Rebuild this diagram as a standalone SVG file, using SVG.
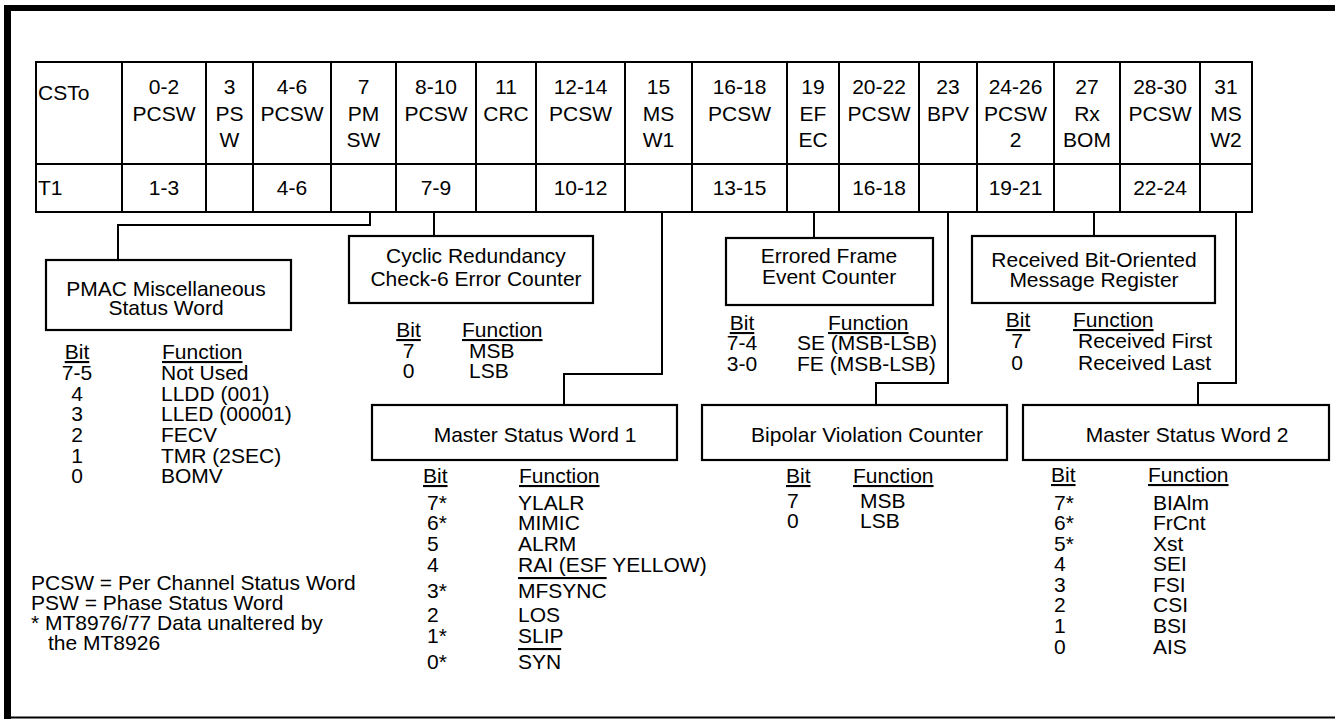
<svg xmlns="http://www.w3.org/2000/svg" width="1335" height="719" viewBox="0 0 1335 719">
<style>
text{font-family:"Liberation Sans",Arial,Helvetica,sans-serif;font-size:21px;fill:#000}
.c{text-anchor:middle}
.u{text-decoration:underline}
.o{text-decoration:overline}
.ln{stroke:#000;stroke-width:2;fill:none}
.box{stroke:#000;stroke-width:2.2;fill:#fff}
</style>
<rect width="1335" height="719" fill="#fff"/>
<g id="frame">
<rect x="4" y="5" width="1331" height="6" fill="#000"/>
<rect x="4" y="5" width="7" height="714" fill="#000"/>
<rect x="4" y="716.5" width="1331" height="2" fill="#000"/>
</g>
<g id="table">
<rect x="36" y="62" width="1216" height="150" class="ln"/>
<path class="ln" d="M36,164H1252 M122,62V212 M206,62V212 M253,62V212 M331,62V212 M396,62V212 M476,62V212 M536,62V212 M625,62V212 M692,62V212 M787,62V212 M839,62V212 M919,62V212 M977,62V212 M1054,62V212 M1120,62V212 M1200,62V212"/>
<text x="38" y="100">CSTo</text>
<text class="c"><tspan x="164" y="94">0-2</tspan><tspan x="164" y="121">PCSW</tspan></text>
<text class="c"><tspan x="229.5" y="94">3</tspan><tspan x="229.5" y="121">PS</tspan><tspan x="229.5" y="147">W</tspan></text>
<text class="c"><tspan x="292" y="94">4-6</tspan><tspan x="292" y="121">PCSW</tspan></text>
<text class="c"><tspan x="363.5" y="94">7</tspan><tspan x="363.5" y="121">PM</tspan><tspan x="363.5" y="147">SW</tspan></text>
<text class="c"><tspan x="436" y="94">8-10</tspan><tspan x="436" y="121">PCSW</tspan></text>
<text class="c"><tspan x="506" y="94">11</tspan><tspan x="506" y="121">CRC</tspan></text>
<text class="c"><tspan x="580.5" y="94">12-14</tspan><tspan x="580.5" y="121">PCSW</tspan></text>
<text class="c"><tspan x="658.5" y="94">15</tspan><tspan x="658.5" y="121">MS</tspan><tspan x="658.5" y="147">W1</tspan></text>
<text class="c"><tspan x="739.5" y="94">16-18</tspan><tspan x="739.5" y="121">PCSW</tspan></text>
<text class="c"><tspan x="813" y="94">19</tspan><tspan x="813" y="121">EF</tspan><tspan x="813" y="147">EC</tspan></text>
<text class="c"><tspan x="879" y="94">20-22</tspan><tspan x="879" y="121">PCSW</tspan></text>
<text class="c"><tspan x="948" y="94">23</tspan><tspan x="948" y="121">BPV</tspan></text>
<text class="c"><tspan x="1015.5" y="94">24-26</tspan><tspan x="1015.5" y="121">PCSW</tspan><tspan x="1015.5" y="147">2</tspan></text>
<text class="c"><tspan x="1087" y="94">27</tspan><tspan x="1087" y="121">Rx</tspan><tspan x="1087" y="147">BOM</tspan></text>
<text class="c"><tspan x="1160" y="94">28-30</tspan><tspan x="1160" y="121">PCSW</tspan></text>
<text class="c"><tspan x="1226" y="94">31</tspan><tspan x="1226" y="121">MS</tspan><tspan x="1226" y="147">W2</tspan></text>
<text x="38" y="195">T1</text>
<text class="c" x="164" y="195">1-3</text>
<text class="c" x="292" y="195">4-6</text>
<text class="c" x="436" y="195">7-9</text>
<text class="c" x="580.5" y="195">10-12</text>
<text class="c" x="739.5" y="195">13-15</text>
<text class="c" x="879" y="195">16-18</text>
<text class="c" x="1015.5" y="195">19-21</text>
<text class="c" x="1160" y="195">22-24</text>
</g>
<g id="connectors">
<path class="ln" d="M370,212V225H118V260"/>
<path class="ln" d="M434,212V236"/>
<path class="ln" d="M662,212V374H564V405"/>
<path class="ln" d="M814,212V238"/>
<path class="ln" d="M948,212V383H876V405"/>
<path class="ln" d="M1094,212V236"/>
<path class="ln" d="M1236,212V383H1198V405"/>
</g>
<g id="pmac">
<rect class="box" x="46" y="260" width="245" height="70"/>
<text class="c"><tspan x="166" y="296">PMAC Miscellaneous</tspan><tspan x="166" y="315">Status Word</tspan></text>
<text class="c"><tspan class="u" x="77" y="359">Bit</tspan><tspan x="77" y="380">7-5</tspan><tspan x="77" y="401">4</tspan><tspan x="77" y="421">3</tspan><tspan x="77" y="442">2</tspan><tspan x="77" y="463">1</tspan><tspan x="77" y="483">0</tspan></text>
<text><tspan class="u" x="162" y="359">Function</tspan><tspan x="161" y="380">Not Used</tspan><tspan x="161" y="401">LLDD (001)</tspan><tspan x="161" y="421">LLED (00001)</tspan><tspan x="161" y="442">FECV</tspan><tspan x="161" y="463">TMR (2SEC)</tspan><tspan x="161" y="483">BOMV</tspan></text>
</g>
<g id="crc">
<rect class="box" x="349" y="236" width="244" height="67"/>
<text class="c"><tspan x="476" y="263">Cyclic Redundancy</tspan><tspan x="476" y="286">Check-6 Error Counter</tspan></text>
<text class="c"><tspan class="u" x="408.5" y="337">Bit</tspan><tspan x="408.5" y="358">7</tspan><tspan x="408.5" y="378">0</tspan></text>
<text><tspan class="u" x="462" y="337">Function</tspan><tspan x="469" y="358">MSB</tspan><tspan x="469" y="378">LSB</tspan></text>
</g>
<g id="efec">
<rect class="box" x="726" y="238" width="207" height="67"/>
<text class="c"><tspan x="829" y="263">Errored Frame</tspan><tspan x="829" y="284">Event Counter</tspan></text>
<text class="c"><tspan class="u" x="742" y="330">Bit</tspan><tspan x="742" y="350">7-4</tspan><tspan x="742" y="371">3-0</tspan></text>
<text><tspan class="u" x="828" y="330">Function</tspan><tspan x="797" y="350">SE (MSB-LSB)</tspan><tspan x="797" y="371">FE (MSB-LSB)</tspan></text>
</g>
<g id="rxbom">
<rect class="box" x="972" y="236" width="243" height="67"/>
<text class="c"><tspan x="1094" y="267">Received Bit-Oriented</tspan><tspan x="1094" y="287">Message Register</tspan></text>
<text class="c"><tspan class="u" x="1018" y="327">Bit</tspan><tspan x="1017" y="348">7</tspan><tspan x="1017" y="370">0</tspan></text>
<text><tspan class="u" x="1073" y="327">Function</tspan><tspan x="1078" y="348">Received First</tspan><tspan x="1078" y="370">Received Last</tspan></text>
</g>
<g id="msw1">
<rect class="box" x="372" y="405" width="305" height="55"/>
<text class="c" x="535" y="442">Master Status Word 1</text>
<text><tspan class="u" x="423" y="483">Bit</tspan><tspan x="427" y="510">7*</tspan><tspan x="427" y="530">6*</tspan><tspan x="427" y="551">5</tspan><tspan x="427" y="572">4</tspan><tspan x="427" y="598">3*</tspan><tspan x="427" y="622">2</tspan><tspan x="427" y="643">1*</tspan><tspan x="427" y="669">0*</tspan></text>
<text><tspan class="u" x="519" y="483">Function</tspan><tspan x="518" y="510">YLALR</tspan><tspan x="518" y="530">MIMIC</tspan><tspan x="518" y="551">ALRM</tspan><tspan x="518" y="572">RAI (ESF YELLOW)</tspan><tspan class="o" x="518" y="598">MFSYNC</tspan><tspan x="518" y="622">LOS</tspan><tspan x="518" y="643">SLIP</tspan><tspan class="o" x="518" y="669">SYN</tspan></text>
</g>
<g id="bpv">
<rect class="box" x="702" y="405" width="305" height="55"/>
<text class="c" x="867" y="442">Bipolar Violation Counter</text>
<text><tspan class="u" x="786" y="483">Bit</tspan><tspan x="787" y="508">7</tspan><tspan x="787" y="528">0</tspan></text>
<text><tspan class="u" x="853" y="483">Function</tspan><tspan x="860" y="508">MSB</tspan><tspan x="860" y="528">LSB</tspan></text>
</g>
<g id="msw2">
<rect class="box" x="1023" y="405" width="306" height="55"/>
<text class="c" x="1187" y="442">Master Status Word 2</text>
<text><tspan class="u" x="1051" y="482">Bit</tspan><tspan x="1054" y="510">7*</tspan><tspan x="1054" y="530">6*</tspan><tspan x="1054" y="551">5*</tspan><tspan x="1054" y="571">4</tspan><tspan x="1054" y="592">3</tspan><tspan x="1054" y="612">2</tspan><tspan x="1054" y="633">1</tspan><tspan x="1054" y="654">0</tspan></text>
<text><tspan class="u" x="1148" y="482">Function</tspan><tspan x="1153" y="510">BIAlm</tspan><tspan x="1153" y="530">FrCnt</tspan><tspan x="1153" y="551">Xst</tspan><tspan x="1153" y="571">SEI</tspan><tspan x="1153" y="592">FSI</tspan><tspan x="1153" y="612">CSI</tspan><tspan x="1153" y="633">BSI</tspan><tspan x="1153" y="654">AIS</tspan></text>
</g>
<g id="notes">
<text><tspan x="31" y="590">PCSW = Per Channel Status Word</tspan><tspan x="31" y="610">PSW = Phase Status Word</tspan><tspan x="31" y="630">* MT8976/77 Data unaltered by</tspan><tspan x="48" y="650">the MT8926</tspan></text>
</g>
</svg>
